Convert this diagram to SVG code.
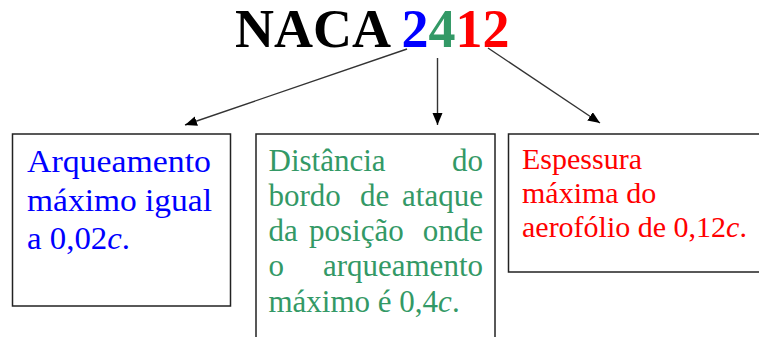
<svg xmlns="http://www.w3.org/2000/svg" width="759" height="337" viewBox="0 0 759 337">
<defs>
<marker id="ah" markerUnits="userSpaceOnUse" markerWidth="14" markerHeight="12" refX="12" refY="5" orient="auto">
<path d="M0,0 L12,5 L0,10 Z" fill="#000"/>
</marker>
<style>
.box{fill:#fff;stroke:#222;stroke-width:1.5}
.t{font-family:"Liberation Serif","Times New Roman",serif;font-size:30px}
.t1{font-size:32px}
.t2{font-size:31px}
.b{fill:#0000ff}.g{fill:#339966}.r{fill:#ff0000}
.conn line{stroke:#333;stroke-width:1.4;marker-end:url(#ah)}
.e{text-anchor:end}
</style>
</defs>
<rect width="759" height="337" fill="#fff"/>
<g id="title">
<text x="235" y="47" font-family="'Liberation Serif','Times New Roman',serif" font-weight="bold" font-size="54" fill="#000">NACA <tspan fill="#0000ff">2</tspan><tspan fill="#339966">4</tspan><tspan fill="#ff0000">12</tspan></text>
</g>
<g id="connectors" class="conn">
<line x1="407" y1="49" x2="185" y2="125"/>
<line x1="437.5" y1="58" x2="437.5" y2="125"/>
<line x1="488" y1="48" x2="600" y2="123"/>
</g>
<g id="node1">
<rect class="box" x="12.5" y="134" width="218" height="172"/>
<text class="t t1 b" x="27" y="171.5" textLength="184" lengthAdjust="spacingAndGlyphs">Arqueamento</text>
<text class="t t1 b" x="27" y="210.5" textLength="185" lengthAdjust="spacingAndGlyphs">máximo igual</text>
<text class="t t1 b" x="27" y="249.3" textLength="103" lengthAdjust="spacingAndGlyphs">a 0,02<tspan font-style="italic">c</tspan>.</text>
</g>
<g id="node2">
<rect class="box" x="256" y="134" width="239" height="215"/>
<text class="t t2 g" x="268.5" y="170.7">Distância</text>
<text class="t t2 g e" x="483" y="170.7">do</text>
<text class="t t2 g" x="268.5" y="205.7">bordo</text>
<text class="t t2 g" x="360" y="205.7">de</text>
<text class="t t2 g e" x="483" y="205.7">ataque</text>
<text class="t t2 g" x="268.5" y="240.7">da</text>
<text class="t t2 g" x="309" y="240.7">posição</text>
<text class="t t2 g e" x="483" y="240.7">onde</text>
<text class="t t2 g" x="268.5" y="275.7">o</text>
<text class="t t2 g e" x="483" y="275.7">arqueamento</text>
<text class="t t2 g" x="268.5" y="311.7">máximo é 0,4<tspan font-style="italic">c</tspan>.</text>
</g>
<g id="node3">
<rect class="box" x="508.5" y="134" width="252" height="138"/>
<text class="t r" x="522" y="168.5">Espessura</text>
<text class="t r" x="522" y="202.5">máxima do</text>
<text class="t r" x="522" y="236.7">aerofólio de 0,12<tspan font-style="italic">c</tspan>.</text>
</g>
</svg>
